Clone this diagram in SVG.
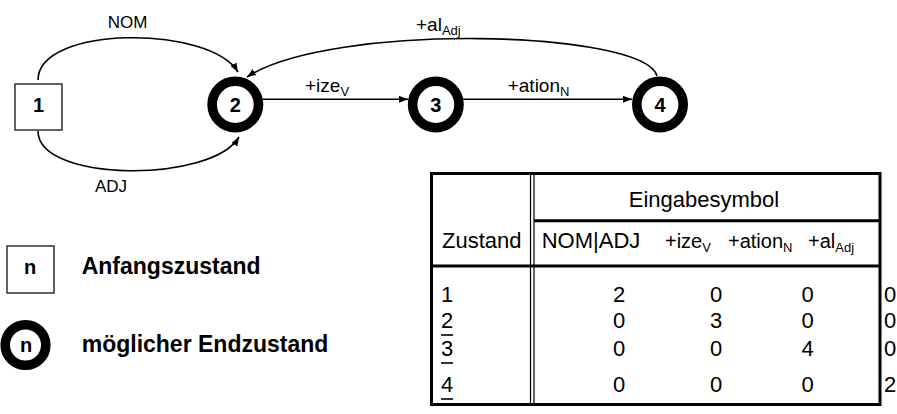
<svg xmlns="http://www.w3.org/2000/svg" width="897" height="414" viewBox="0 0 897 414">
  <style>
    text { font-family: "Liberation Sans", Arial, sans-serif; fill: #000; }
    .lbl { font-size: 19px; }
    .lbl2 { font-size: 17px; }
    .sub { font-size: 13px; }
    .num { font-size: 20px; font-weight: bold; text-anchor: middle; }
    .leg { font-size: 23px; font-weight: bold; }
    .tb { font-size: 22px; }
    .th { font-size: 20px; }
    .edge { fill: none; stroke: #000; stroke-width: 1.6; }
    .final { fill: #fff; stroke: #000; stroke-width: 9.6; }
    .start { fill: #fff; stroke: #222; stroke-width: 1.4; }
    .grid { stroke: #000; fill: none; }
  </style>
  <defs>
    <marker id="arrow" viewBox="0 0 10 10" refX="10" refY="5" markerWidth="9" markerHeight="7" orient="auto" markerUnits="userSpaceOnUse" preserveAspectRatio="none">
      <path d="M0,0 L10,5 L0,10 z" fill="#000"/>
    </marker>
  </defs>

  <!-- transitions -->
  <g id="connectors">
    <path class="edge" d="M38,80 C38,25 210,25 238,72" marker-end="url(#arrow)"/>
    <path class="edge" d="M38,131 C38,183 212,183 239,137" marker-end="url(#arrow)"/>
    <path class="edge" d="M657,76 C645,30 330,22 247,77" marker-end="url(#arrow)"/>
    <path class="edge" d="M263,99.3 L408,99.3" marker-end="url(#arrow)"/>
    <path class="edge" d="M463,99.3 L632,99.3" marker-end="url(#arrow)"/>
    <text class="lbl2" x="127.5" y="28.3" text-anchor="middle">NOM</text>
    <text class="lbl2" x="111" y="191.7" text-anchor="middle">ADJ</text>
    <text class="lbl" x="416" y="31">+al<tspan class="sub" dy="4">Adj</tspan></text>
    <text class="lbl" x="305" y="91.7">+ize<tspan class="sub" dy="4">V</tspan></text>
    <text class="lbl" x="507.7" y="91.7">+ation<tspan class="sub" dy="4">N</tspan></text>
  </g>

  <!-- states -->
  <g id="state1">
    <rect class="start" x="15" y="84" width="47" height="46"/>
    <text class="num" x="38.5" y="112">1</text>
  </g>
  <g id="state2">
    <circle class="final" cx="235.3" cy="104.5" r="23.2"/>
    <text class="num" x="235.3" y="112">2</text>
  </g>
  <g id="state3">
    <circle class="final" cx="435.8" cy="104.5" r="23.2"/>
    <text class="num" x="435.8" y="112">3</text>
  </g>
  <g id="state4">
    <circle class="final" cx="660" cy="104.5" r="23.2"/>
    <text class="num" x="660" y="112">4</text>
  </g>

  <!-- legend -->
  <g id="legend-start">
    <rect class="start" x="7" y="246" width="47" height="47"/>
    <text class="num" x="30" y="274">n</text>
    <text class="leg" x="81.7" y="274">Anfangszustand</text>
  </g>
  <g id="legend-final">
    <circle class="final" cx="25.5" cy="345" r="20.3"/>
    <text class="num" x="26" y="352">n</text>
    <text class="leg" x="81.7" y="352">möglicher Endzustand</text>
  </g>

  <!-- transition table -->
  <g id="table">
    <rect class="grid" x="431.5" y="173.5" width="448.5" height="231" stroke-width="3"/>
    <line class="grid" x1="530.5" y1="173" x2="530.5" y2="405" stroke-width="1.2"/>
    <line class="grid" x1="534" y1="173" x2="534" y2="405" stroke-width="1.2"/>
    <line class="grid" x1="534" y1="220.7" x2="880" y2="220.7" stroke-width="3"/>
    <line class="grid" x1="431" y1="266" x2="880" y2="266" stroke-width="3"/>

    <text class="tb" x="704" y="206.7" text-anchor="middle">Eingabesymbol</text>
    <text class="tb" x="442" y="248">Zustand</text>
    <text class="tb" x="541.7" y="248">NOM|ADJ</text>
    <text class="th" x="665" y="248">+ize<tspan class="sub" dy="4">V</tspan></text>
    <text class="th" x="728" y="248">+ation<tspan class="sub" dy="4">N</tspan></text>
    <text class="th" x="808" y="248">+al<tspan class="sub" dy="4">Adj</tspan></text>

    <!-- state column; final states underlined -->
    <text class="tb" x="441" y="301.7">1</text>
    <text class="tb" x="441" y="328">2</text>
    <text class="tb" x="441" y="356">3</text>
    <text class="tb" x="441" y="391.7">4</text>
    <line class="grid" x1="441" y1="335" x2="453" y2="335" stroke-width="1.6"/>
    <line class="grid" x1="441" y1="363" x2="453" y2="363" stroke-width="1.6"/>
    <line class="grid" x1="441" y1="399" x2="453" y2="399" stroke-width="1.6"/>

    <g text-anchor="middle">
      <text class="tb" x="619" y="301.7">2</text>
      <text class="tb" x="716" y="301.7">0</text>
      <text class="tb" x="807.5" y="301.7">0</text>
      <text class="tb" x="619" y="328">0</text>
      <text class="tb" x="716" y="328">3</text>
      <text class="tb" x="807.5" y="328">0</text>
      <text class="tb" x="619" y="356">0</text>
      <text class="tb" x="716" y="356">0</text>
      <text class="tb" x="807.5" y="356">4</text>
      <text class="tb" x="619" y="391.7">0</text>
      <text class="tb" x="716" y="391.7">0</text>
      <text class="tb" x="807.5" y="391.7">0</text>
    </g>
    <text class="tb" x="884" y="301.7">0</text>
    <text class="tb" x="884" y="328">0</text>
    <text class="tb" x="884" y="356">0</text>
    <text class="tb" x="884" y="391.7">2</text>
  </g>
</svg>
